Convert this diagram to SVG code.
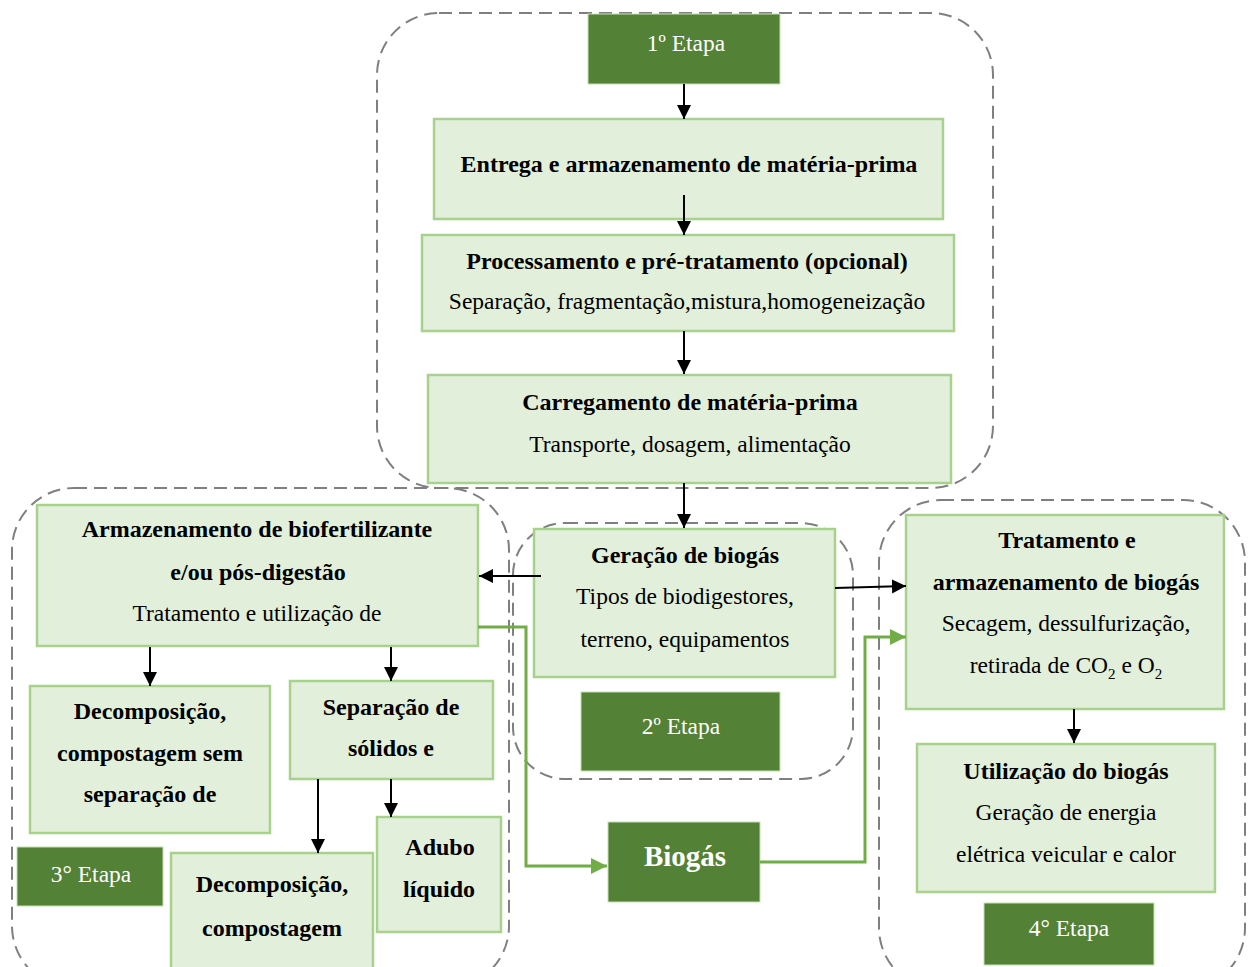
<svg xmlns="http://www.w3.org/2000/svg" width="1249" height="967" viewBox="0 0 1249 967">
<defs>
<style>
.grp{fill:none;stroke:#7f7f7f;stroke-width:2;stroke-dasharray:13 7}
.box{fill:#e2efda;stroke:#a9d18e;stroke-width:2.5}
.dark{fill:#538135;stroke:#c5dfb4;stroke-width:1}
.t{font-family:"Liberation Serif","Times New Roman",serif;font-size:23.5px;fill:#000;text-anchor:middle}
.b{font-weight:bold;font-size:24px}
.w{fill:#fff;font-size:23.5px}
.blk{stroke:#000;stroke-width:2;fill:none}
.grn{stroke:#70ad47;stroke-width:3;fill:none}
</style>
<marker id="ab" markerUnits="userSpaceOnUse" markerWidth="16" markerHeight="16" refX="14" refY="7" orient="auto">
<path d="M0,0 L14,7 L0,14 Z" fill="#000"/>
</marker>
<marker id="ag" markerUnits="userSpaceOnUse" markerWidth="18" markerHeight="18" refX="16" refY="8" orient="auto">
<path d="M0,0 L16,8 L0,16 Z" fill="#70ad47"/>
</marker>
</defs>
<rect width="1249" height="967" fill="#fff"/>

<g id="groups">
<rect class="grp" x="377" y="13" width="616" height="475" rx="62"/>
<rect class="grp" x="12" y="488" width="497" height="500" rx="62"/>
<rect class="grp" x="513" y="523" width="340" height="256" rx="52"/>
<rect class="grp" x="879" y="500" width="366" height="490" rx="62"/>
</g>

<g id="etapa1">
<rect class="dark" x="588" y="14" width="192" height="70"/>
<text class="t w" x="686" y="51">1º Etapa</text>
</g>

<g id="entrega">
<rect class="box" x="434" y="119" width="509" height="100"/>
<text class="t b" x="689" y="172">Entrega e armazenamento de matéria-prima</text>
</g>

<g id="processamento">
<rect class="box" x="422" y="235" width="532" height="96"/>
<text class="t b" x="687" y="269">Processamento e pré-tratamento (opcional)</text>
<text class="t" x="687" y="309">Separação, fragmentação,mistura,homogeneização</text>
</g>

<g id="carregamento">
<rect class="box" x="428" y="375" width="523" height="108"/>
<text class="t b" x="690" y="410">Carregamento de matéria-prima</text>
<text class="t" x="690" y="452">Transporte, dosagem, alimentação</text>
</g>

<g id="geracao">
<rect class="box" x="534" y="529" width="301" height="148"/>
<text class="t b" x="685" y="563">Geração de biogás</text>
<text class="t" x="685" y="604">Tipos de biodigestores,</text>
<text class="t" x="685" y="647">terreno, equipamentos</text>
</g>

<g id="etapa2">
<rect class="dark" x="581" y="692" width="199" height="79"/>
<text class="t w" x="681" y="734">2º Etapa</text>
</g>

<g id="armazenamento">
<rect class="box" x="37" y="505" width="441" height="141"/>
<text class="t b" x="257" y="537">Armazenamento de biofertilizante</text>
<text class="t b" x="258" y="580">e/ou pós-digestão</text>
<text class="t" x="257" y="621">Tratamento e utilização de</text>
</g>

<g id="decomposicao1">
<rect class="box" x="30" y="686" width="240" height="147"/>
<text class="t b" x="150" y="719">Decomposição,</text>
<text class="t b" x="150" y="761">compostagem sem</text>
<text class="t b" x="150" y="802">separação de</text>
</g>

<g id="separacao">
<rect class="box" x="290" y="681" width="203" height="98"/>
<text class="t b" x="391" y="715">Separação de</text>
<text class="t b" x="391" y="756">sólidos e</text>
</g>

<g id="decomposicao2">
<rect class="box" x="171" y="853" width="202" height="130"/>
<text class="t b" x="272" y="892">Decomposição,</text>
<text class="t b" x="272" y="936">compostagem</text>
</g>

<g id="adubo">
<rect class="box" x="377" y="817" width="124" height="115"/>
<text class="t b" x="440" y="855">Adubo</text>
<text class="t b" x="439" y="897">líquido</text>
</g>

<g id="etapa3">
<rect class="dark" x="17" y="847" width="146" height="59"/>
<text class="t w" x="91" y="882">3° Etapa</text>
</g>

<g id="biogas">
<rect class="dark" x="608" y="822" width="152" height="80"/>
<text class="t" x="685" y="866" style="fill:#fff;font-weight:bold;font-size:29px">Biogás</text>
</g>

<g id="tratamento">
<rect class="box" x="906" y="515" width="318" height="194"/>
<text class="t b" x="1067" y="548">Tratamento e</text>
<text class="t b" x="1066" y="590">armazenamento de biogás</text>
<text class="t" x="1066" y="631">Secagem, dessulfurização,</text>
<text class="t" x="1066" y="673">retirada de CO<tspan font-size="15" dy="6">2</tspan><tspan dy="-6"> e O</tspan><tspan font-size="15" dy="6">2</tspan></text>
</g>

<g id="utilizacao">
<rect class="box" x="917" y="744" width="298" height="148"/>
<text class="t b" x="1066" y="779">Utilização do biogás</text>
<text class="t" x="1066" y="820">Geração de energia</text>
<text class="t" x="1066" y="862">elétrica veicular e calor</text>
</g>

<g id="etapa4">
<rect class="dark" x="984" y="903" width="170" height="62"/>
<text class="t w" x="1069" y="936">4° Etapa</text>
</g>

<g id="connectors">
<line class="blk" x1="684" y1="84" x2="684" y2="119" marker-end="url(#ab)"/>
<line class="blk" x1="684" y1="195" x2="684" y2="235" marker-end="url(#ab)"/>
<line class="blk" x1="684" y1="331" x2="684" y2="374" marker-end="url(#ab)"/>
<line class="blk" x1="684" y1="483" x2="684" y2="528" marker-end="url(#ab)"/>
<line class="blk" x1="541" y1="576" x2="479" y2="576" marker-end="url(#ab)"/>
<line class="blk" x1="835" y1="588" x2="906" y2="586" marker-end="url(#ab)"/>
<line class="blk" x1="150" y1="647" x2="150" y2="686" marker-end="url(#ab)"/>
<line class="blk" x1="391" y1="647" x2="391" y2="681" marker-end="url(#ab)"/>
<line class="blk" x1="318" y1="779" x2="318" y2="853" marker-end="url(#ab)"/>
<line class="blk" x1="391" y1="779" x2="391" y2="817" marker-end="url(#ab)"/>
<line class="blk" x1="1074" y1="709" x2="1074" y2="743" marker-end="url(#ab)"/>
<polyline class="grn" points="478,627 526,627 526,866 607,866" marker-end="url(#ag)"/>
<polyline class="grn" points="760,862 865,862 865,637 906,637" marker-end="url(#ag)"/>
</g>
</svg>
